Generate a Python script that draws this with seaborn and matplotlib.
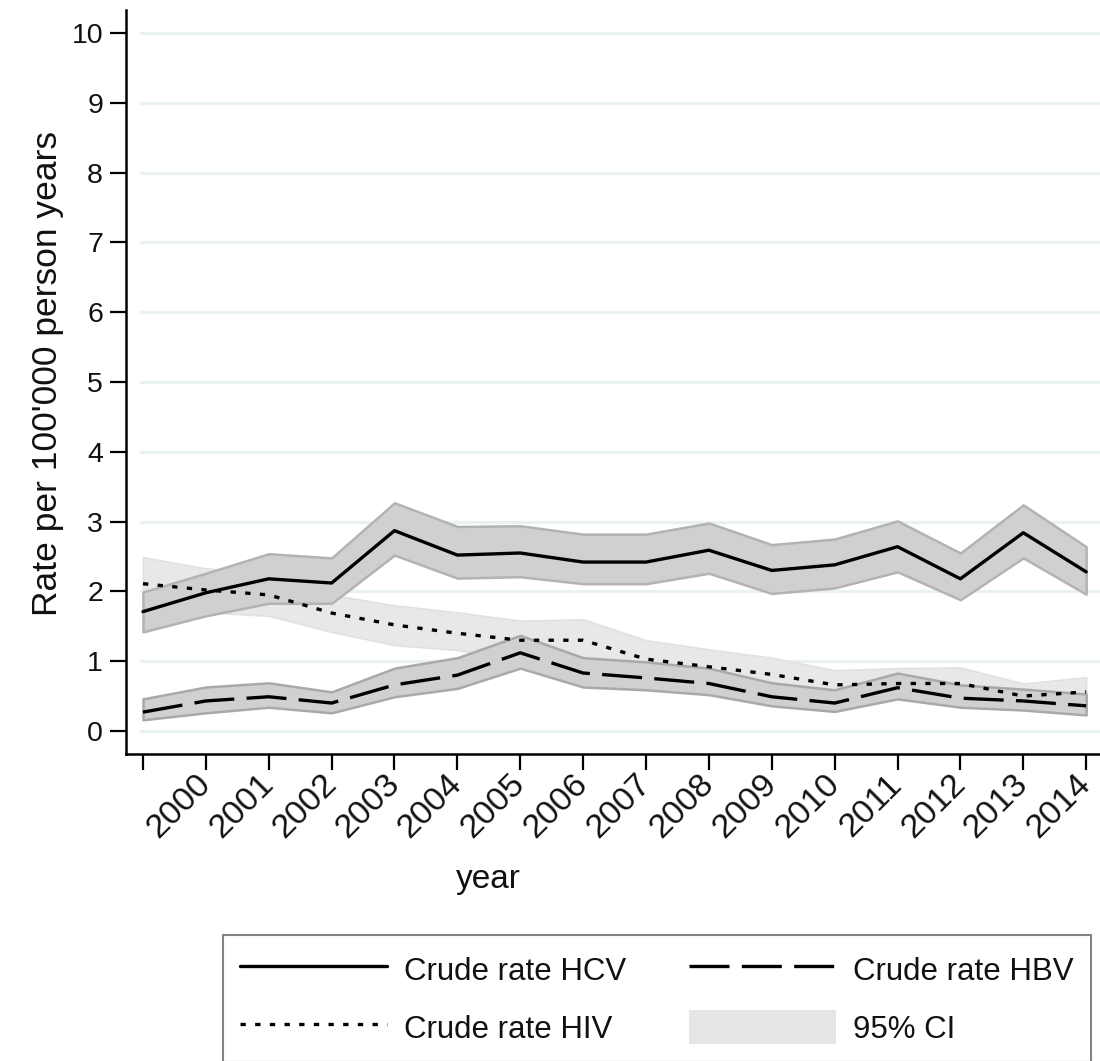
import numpy as np
import pandas as pd
import matplotlib
matplotlib.use("Agg")
import matplotlib.pyplot as plt
import seaborn as sns
from matplotlib.patches import Patch
from matplotlib.lines import Line2D

years = [1999, 2000, 2001, 2002, 2003, 2004, 2005, 2006, 2007, 2008, 2009, 2010, 2011, 2012, 2013, 2014]
year_labels = ["", "2000", "2001", "2002", "2003", "2004", "2005", "2006", "2007",
               "2008", "2009", "2010", "2011", "2012", "2013", "2014"]

hcv = [1.71, 1.98, 2.18, 2.12, 2.87, 2.52, 2.55, 2.42, 2.42, 2.59, 2.30, 2.38, 2.64, 2.18, 2.84, 2.28]
hcv_lo = [1.42, 1.65, 1.83, 1.83, 2.52, 2.19, 2.21, 2.11, 2.11, 2.26, 1.97, 2.05, 2.28, 1.88, 2.48, 1.96]
hcv_hi = [1.99, 2.26, 2.54, 2.48, 3.27, 2.93, 2.94, 2.82, 2.82, 2.98, 2.67, 2.75, 3.01, 2.55, 3.24, 2.64]

hiv = [2.11, 2.02, 1.95, 1.69, 1.52, 1.40, 1.30, 1.30, 1.03, 0.92, 0.81, 0.66, 0.68, 0.68, 0.50, 0.56]
hiv_lo = [1.75, 1.70, 1.65, 1.42, 1.23, 1.16, 1.02, 1.02, 0.80, 0.70, 0.60, 0.50, 0.50, 0.50, 0.35, 0.38]
hiv_hi = [2.49, 2.33, 2.25, 1.95, 1.80, 1.70, 1.58, 1.60, 1.30, 1.17, 1.05, 0.87, 0.90, 0.91, 0.68, 0.77]

hbv = [0.27, 0.43, 0.49, 0.40, 0.66, 0.80, 1.12, 0.83, 0.76, 0.68, 0.49, 0.40, 0.62, 0.47, 0.43, 0.36]
hbv_lo = [0.16, 0.26, 0.34, 0.26, 0.49, 0.61, 0.90, 0.63, 0.59, 0.52, 0.36, 0.28, 0.46, 0.34, 0.30, 0.23]
hbv_hi = [0.46, 0.63, 0.69, 0.56, 0.90, 1.05, 1.37, 1.05, 0.99, 0.90, 0.69, 0.59, 0.83, 0.66, 0.60, 0.53]

df = pd.DataFrame({"year": years, "hcv": hcv, "hiv": hiv, "hbv": hbv})

sns.set_theme(style="white")
plt.rcParams['font.family'] = ['Liberation Sans', 'DejaVu Sans']

fig = plt.figure(figsize=(11, 10.61), dpi=100)
ax = fig.add_axes([126/1100, 1 - 754/1061, 1 - 126/1100, (754 - 10)/1061])

# grid
for v in range(11):
    ax.axhline(v, xmin=0.015, color="#e9f1f2", lw=2.2, zorder=0)

# CI bands
ax.fill_between(years, hiv_lo, hiv_hi, facecolor="#e8e8e8", edgecolor="#e1e1e1", lw=1.2, zorder=1)
ax.fill_between(years, hcv_lo, hcv_hi, facecolor="#d0d0d0", edgecolor="#b3b3b3", lw=1.8, zorder=2)
ax.fill_between(years, hbv_lo, hbv_hi, facecolor="#d0d0d0", edgecolor="#a9a9a9", lw=1.8, zorder=2)

# lines
sns.lineplot(data=df, x="year", y="hcv", color="black", lw=2.4, ax=ax, zorder=3)
sns.lineplot(data=df, x="year", y="hbv", color="black", lw=2.4, linestyle=(0, (12, 3.7)), ax=ax, zorder=3)
sns.lineplot(data=df, x="year", y="hiv", color="black", lw=2.4, linestyle=(0, (1.6, 2.8)), ax=ax, zorder=3)

ax.set_xlim(1998.73, 2014.22)
ax.set_ylim(-0.33, 10.33)

ax.set_yticks(range(11))
ax.set_yticklabels([str(v) for v in range(11)], fontsize=20.5, color="#111111")
ax.set_xticks(years)
ax.set_xticklabels(year_labels, fontsize=24.5, rotation=45, ha="right", va="center",
                   rotation_mode="anchor", color="#111111")

ax.tick_params(axis="both", which="major", length=11.5, width=1.6, color="black",
               left=True, bottom=True, direction="out")
ax.tick_params(axis="y", pad=5)
ax.tick_params(axis="x", pad=7)

for s in ["top", "right"]:
    ax.spines[s].set_visible(False)
for s in ["left", "bottom"]:
    ax.spines[s].set_color("black")
    ax.spines[s].set_linewidth(1.8)

ax.set_ylabel("Rate per 100'000 person years", fontsize=25.5, color="#111111")
ax.yaxis.set_label_coords(-0.064, 0.512)
ax.set_xlabel("year", fontsize=24, color="#111111")
ax.xaxis.set_label_coords(0.372, -0.148)

handles = [
    Line2D([], [], color="black", lw=2.4),
    Line2D([], [], color="black", lw=2.4, linestyle=(0, (1.6, 2.8))),
    Line2D([], [], color="black", lw=2.4, linestyle=(0, (12, 3.7))),
    Patch(facecolor="#e5e5e5", edgecolor="none"),
]
labels = ["Crude rate HCV", "Crude rate HIV", "Crude rate HBV", "95% CI"]
leg = fig.legend(handles, labels, loc="upper left", bbox_to_anchor=(223/1100, 1 - 935/1061),
                 ncol=2, fontsize=22.5, frameon=True, fancybox=False, borderaxespad=0,
                 handlelength=4.7, handleheight=1.3, handletextpad=0.55, columnspacing=2.0,
                 labelspacing=0.75, borderpad=0.55)
leg.get_frame().set_edgecolor("#666666")
leg.get_frame().set_linewidth(1.5)
for t in leg.get_texts():
    t.set_color("#111111")

fig.savefig("out.png", dpi=100)
